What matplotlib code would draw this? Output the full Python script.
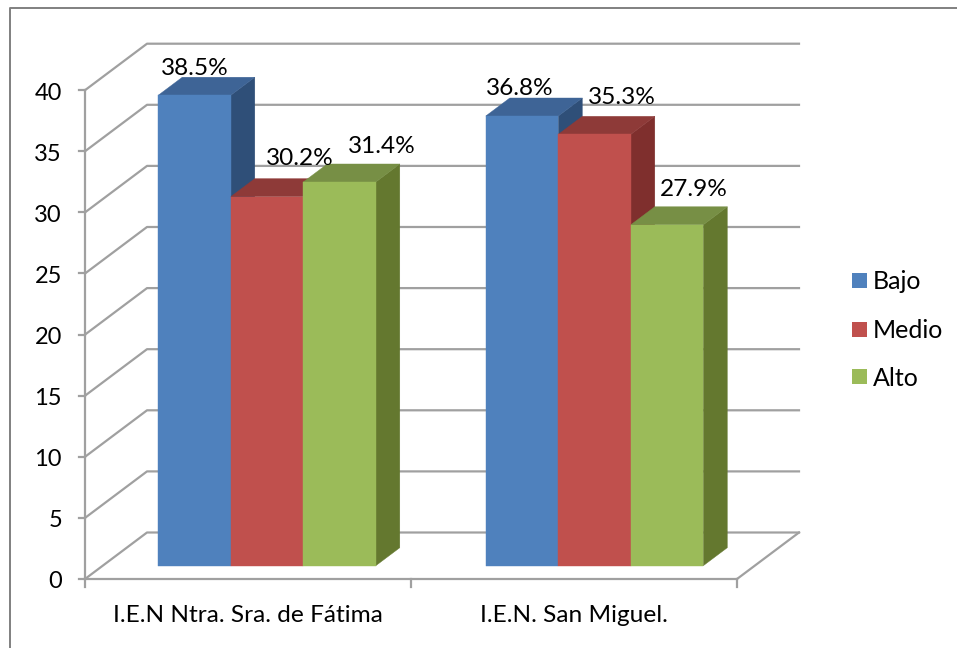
import matplotlib
matplotlib.rcParams['font.family'] = 'Lato'
import matplotlib.pyplot as plt
from matplotlib.patches import Polygon, Rectangle

categories = ['I.E.N Ntra. Sra. de Fátima', 'I.E.N. San Miguel.']
series = ['Bajo', 'Medio', 'Alto']
bajo = [38.5, 36.8]
medio = [30.2, 35.3]
alto = [31.4, 27.9]
y_ticks = [0, 5, 10, 15, 20, 25, 30, 35, 40]

front = ['#4F81BD', '#C0504D', '#9BBB59']
top = ['#3E6496', '#8E3A38', '#778F45']
side = ['#2F4F78', '#7F2F2D', '#64782F']
grid = '#A0A0A0'

# hand placed data labels, pixels from the middle of the bar / top of the front face
label_dx = [[0, 33, 42], [-2, 27, 27]]
label_dy = [[27, 38, 35], [28, 37, 35]]

W, H = 957, 648
PX_CAT = 326.0
PX_VAL = 12.22
Y0 = 579.0

fig = plt.figure(figsize=(W / 100, H / 100), dpi=100)
ax = fig.add_axes([0, 0, 1, 1])
ax.set_xlim((0 - 248) / PX_CAT, (W - 248) / PX_CAT)
ax.set_ylim((Y0 - H) / PX_VAL, Y0 / PX_VAL)
ax.axis('off')

# depth of the fake 3d box, in data units
wall_dx = 62 / PX_CAT
wall_dy = 46.5 / PX_VAL
bar_dx = 24 / PX_CAT
bar_dy = 18 / PX_VAL
bar_w = 72.5 / PX_CAT
bar_base = 13.3 / PX_VAL
first_bar = (158.3 - 248) / PX_CAT
group_step = 327.5 / PX_CAT
x_left = -0.5
x_right = 1.5
wall_right = x_right + wall_dx

# gridlines on back and left wall
for v in y_ticks:
    ax.plot([x_left, x_left + wall_dx, wall_right], [v, v + wall_dy, v + wall_dy], color=grid, lw=1.6, zorder=1)
    ax.plot([x_left - 6 / PX_CAT, x_left], [v, v], color=grid, lw=1.6, zorder=1)
    ax.text(x_left - 23 / PX_CAT, v - 3 / PX_VAL, str(v), ha='right', va='center', fontsize=17, color='black')
ax.plot([x_left, x_left], [0, 40], color=grid, lw=1.6, zorder=1)
ax.plot([x_right, wall_right], [0, wall_dy], color=grid, lw=1.6, zorder=1)
ax.plot([x_left, x_right], [0, 0], color=grid, lw=1.6, zorder=1)
for i in range(3):
    ax.plot([x_left + i, x_left + i], [0, -8 / PX_VAL], color=grid, lw=1.6, zorder=1)

# bars, drawn left to right so the next front face covers the previous side
for c in range(len(categories)):
    values = [bajo[c], medio[c], alto[c]]
    for s, v in enumerate(values):
        x0 = c * group_step + first_bar + s * bar_w
        x1 = x0 + bar_w
        z = 3 + c * 3 + s
        ax.add_patch(Polygon([(x1, bar_base), (x1 + bar_dx, bar_base + bar_dy), (x1 + bar_dx, v + bar_base + bar_dy), (x1, v + bar_base)],
                             fc=side[s], ec=side[s], lw=0.3, zorder=z))
        ax.add_patch(Polygon([(x0, v + bar_base), (x0 + bar_dx, v + bar_base + bar_dy), (x1 + bar_dx, v + bar_base + bar_dy), (x1, v + bar_base)],
                             fc=top[s], ec=top[s], lw=0.3, zorder=z))
        ax.add_patch(Rectangle((x0, bar_base), bar_w, v, fc=front[s], ec=front[s], lw=0.3, zorder=z))
        ax.text(x0 + bar_w / 2 + label_dx[c][s] / PX_CAT, v + bar_base + label_dy[c][s] / PX_VAL, '{:.1f}%'.format(v),
                ha='center', va='center', fontsize=17.6, color='black', zorder=20)

for c, name in enumerate(categories):
    ax.text(c, -3.0, name, ha='center', va='center', fontsize=17.6, color='black')

# legend
for s, name in enumerate(series):
    py = 281 + s * 48
    yy = (Y0 - py) / PX_VAL
    ax.add_patch(Rectangle(((852 - 248) / PX_CAT, yy - 7.5 / PX_VAL), 15 / PX_CAT, 15 / PX_VAL, fc=front[s], ec='none', zorder=5))
    ax.text((873 - 248) / PX_CAT, yy - 1 / PX_VAL, name, ha='left', va='center', fontsize=18, color='black')

# outer frame
fig.add_artist(plt.Line2D([10 / W, 10 / W, 1], [0, 1 - 7.5 / H, 1 - 7.5 / H], color='#808080', lw=1.4))

plt.savefig('out.png', dpi=100)
